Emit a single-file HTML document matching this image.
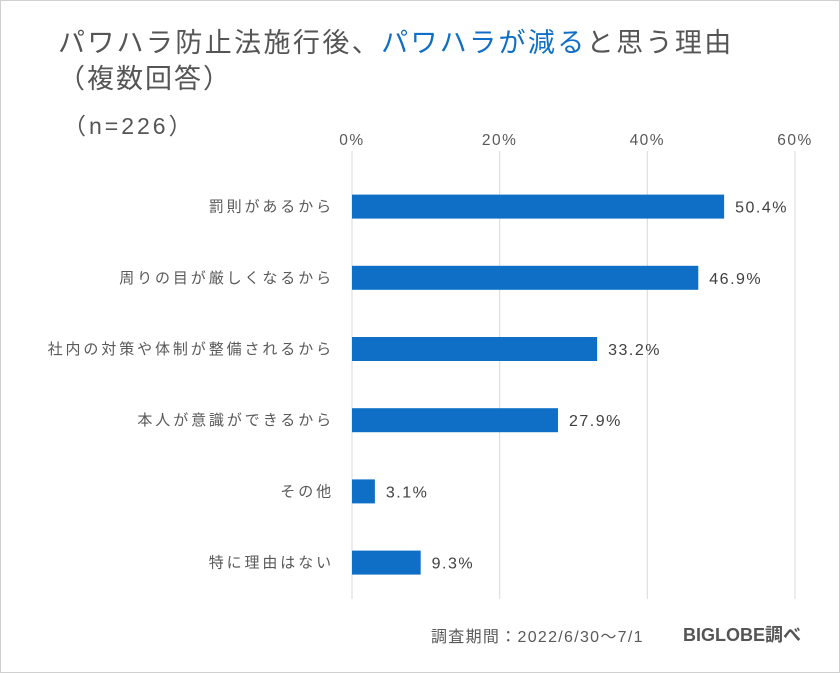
<!DOCTYPE html>
<html><head><meta charset="utf-8"><style>
body{margin:0;background:#fff;}
#wrap{position:relative;width:838px;height:671px;border:1px solid #d0d0d0;background:#fff;font-family:"Liberation Sans","Noto Sans CJK JP",sans-serif;color:#595959;overflow:hidden}
.t{position:absolute;white-space:nowrap}
</style></head><body>
<div id="wrap">
<div class="t" style="left:57px;top:20px;font-size:27px;letter-spacing:2.4px;color:#555">パワハラ防止法施行後、<span style="color:#0f6fc6">パワハラが減る</span>と思う理由</div>
<div class="t" style="left:57px;top:56px;font-size:27px;letter-spacing:2px;color:#555">（複数回答）</div>
<div class="t" style="left:62px;top:106px;font-size:23px;letter-spacing:3px;color:#555">（n=226）</div>
<svg id="chart" width="838" height="671" style="position:absolute;left:0;top:0"></svg>
<div class="t" style="left:430px;top:622px;font-size:16px;letter-spacing:1.3px">調査期間：2022/6/30～7/1</div>
<div class="t" style="left:682px;top:620px;font-size:18px;font-weight:bold;color:#555">BIGLOBE調べ</div>
</div>
<script>
const categories=["罰則があるから","周りの目が厳しくなるから","社内の対策や体制が整備されるから","本人が意識ができるから","その他","特に理由はない"];
const values=[50.4,46.9,33.2,27.9,3.1,9.3];
const ticks=[0,20,40,60];
const tickLabels=["0%","20%","40%","60%"];
const NS="http://www.w3.org/2000/svg";
const svg=document.getElementById('chart');
const x0=351,x1=794,yTop=150,yBot=598,rowTop=170,rowH=71.2,barH=24;
const xs=v=>x0+(v-0)/(60-0)*(x1-x0);
const yc=i=>rowTop+rowH*i+rowH/2;
function mk(t,a){const e=document.createElementNS(NS,t);for(const k in a)e.setAttribute(k,a[k]);svg.appendChild(e);return e;}
ticks.forEach((t,i)=>{
 const g=mk('line',{x1:xs(t),x2:xs(t),y1:yTop,y2:yBot,stroke:'#d9d9d9','stroke-width':1});
 
 
 const l=mk('text',{x:xs(t),y:144,'text-anchor':'middle','font-size':15.5,'letter-spacing':1.5,fill:'#595959'});
 l.textContent=tickLabels[i];
 
 
});
categories.forEach((c,i)=>{
 const y=yc(i);
 const b=mk('rect',{x:xs(0),y:y-barH/2,width:xs(values[i])-xs(0),height:barH,fill:'#0f6fc6'});
 
 
 const l=mk('text',{x:333,y:y+5,'text-anchor':'end','font-size':15,'letter-spacing':2.9,fill:'#595959'});
 l.textContent=c;
 
 
 const v=mk('text',{x:xs(values[i])+11,y:y+6,'font-size':16,'letter-spacing':1.5,fill:'#404040'});
 v.textContent=values[i].toFixed(1)+'%';
 
 
});
</script>
</body></html>
